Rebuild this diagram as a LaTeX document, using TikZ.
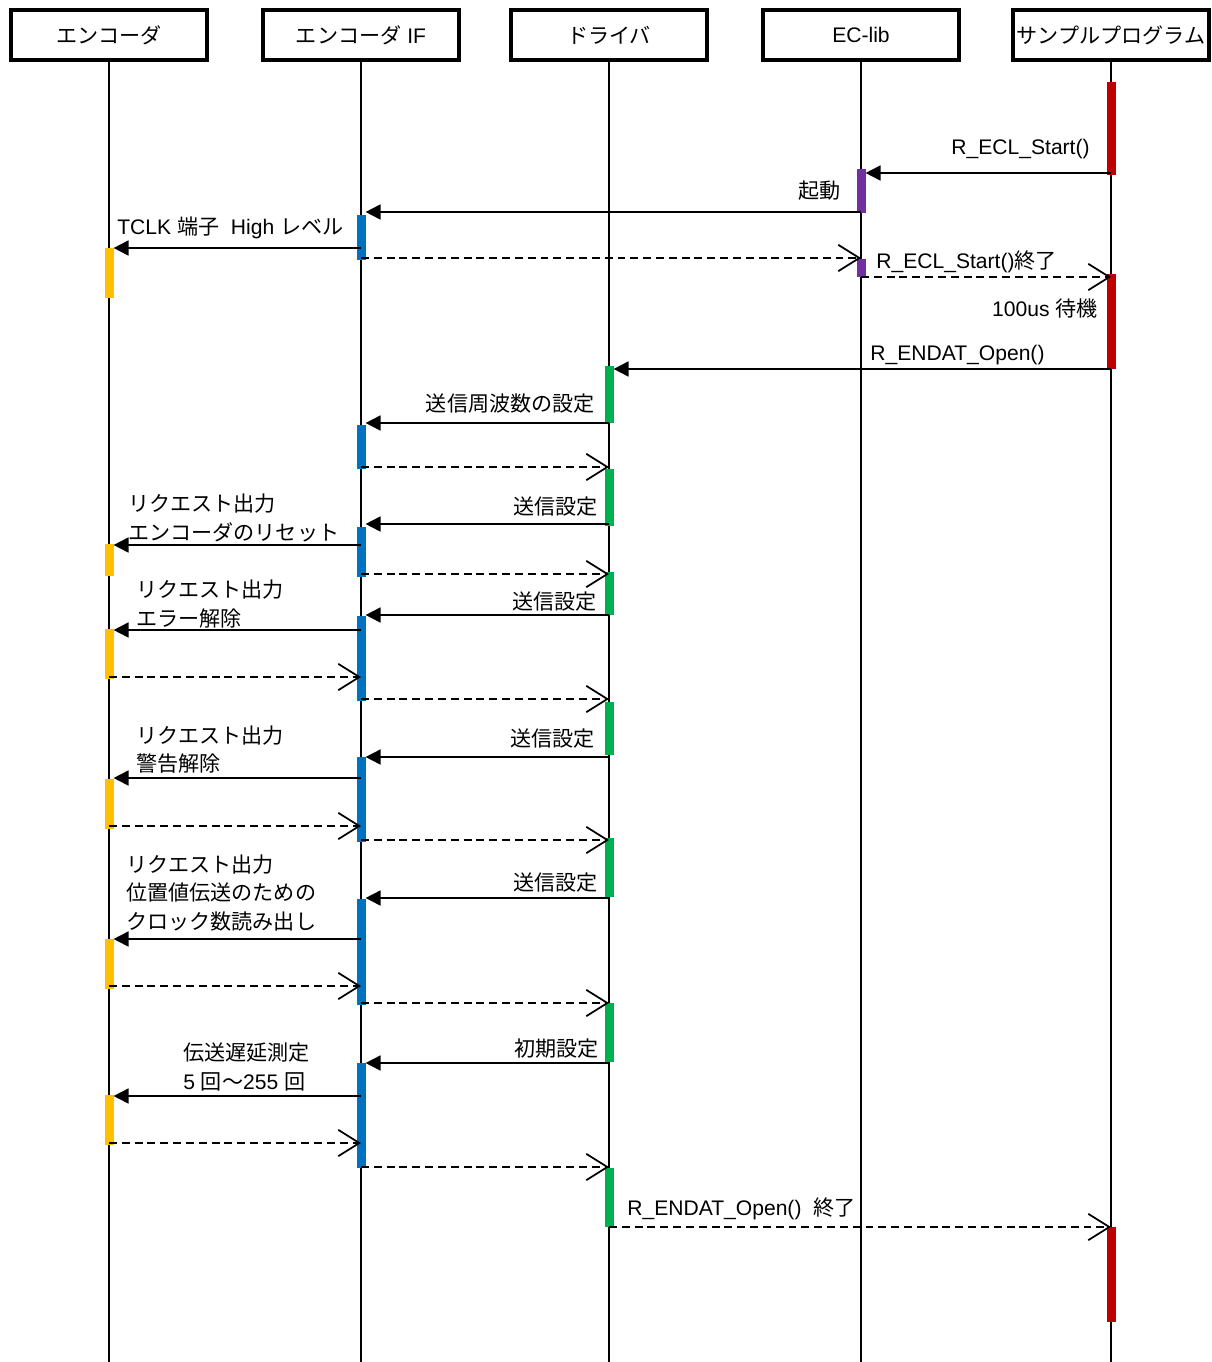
\documentclass[tikz,border=0pt]{standalone}
\usepackage{fontspec}
\setmainfont{Liberation Sans}
\newfontfamily\jp{Noto Sans CJK JP}
\usetikzlibrary{arrows.meta,calc}

\definecolor{appred}{HTML}{C00000}
\definecolor{libpurple}{HTML}{7030A0}
\definecolor{ifblue}{HTML}{0070C0}
\definecolor{encyellow}{HTML}{FFC000}
\definecolor{drvgreen}{HTML}{00B050}

\begin{document}
\begin{tikzpicture}[x=0.02cm,y=-0.02cm,
	every node/.style={font=\fontsize{12}{16}\selectfont,inner sep=0pt},
	jpnode/.style={font=\fontsize{12}{16}\selectfont\jp},
	head/.style={draw,line width=2.3pt,minimum width=3.92cm,minimum height=1cm},
	lifeline/.style={line width=1pt},
	call/.style={line width=1pt,-{Triangle[length=8.5pt,width=8.5pt]},shorten >=2.6pt},
	ret/.style={line width=1pt,dash pattern=on 4.5pt off 2.8pt,-{Straight Barb[length=12pt,width=15pt]}}]
	
	\useasboundingbox (0,0) rectangle (1212,1362);
	
	% objects
	\node[head] (enc)   at (109,35)  {\jp エンコーダ};
	\node[head] (encif) at (361,35)  {{\jp エンコーダ} IF};
	\node[head] (drv)   at (609,35)  {\jp ドライバ};
	\node[head] (eclib) at (861,35)  {EC-lib};
	\node[head] (app)   at (1111,35) {\jp サンプルプログラム};
	
	\foreach \l in {enc,encif,drv,eclib,app}
		\draw[lifeline] (\l.south) -- (\l.south |- 0,1362);
	
	% activations
	\foreach \l/\a/\b/\c in {app/82/175/appred, app/274/369/appred, app/1227/1322/appred,
		eclib/169/213/libpurple, eclib/259/277/libpurple,
		encif/215/260/ifblue, encif/425/469/ifblue, encif/527/577/ifblue, encif/616/701/ifblue,
		encif/757/842/ifblue, encif/899/1005/ifblue, encif/1063/1168/ifblue,
		enc/248/298/encyellow, enc/544/576/encyellow, enc/629/679/encyellow,
		enc/779/829/encyellow, enc/939/989/encyellow, enc/1095/1145/encyellow,
		drv/366/423/drvgreen, drv/469/526/drvgreen, drv/572/615/drvgreen, drv/702/755/drvgreen,
		drv/838/897/drvgreen, drv/1003/1062/drvgreen, drv/1168/1227/drvgreen}
		\fill[\c] ($(\l.south |- 0,\a)+(-4.5,0)$) rectangle ($(\l.south |- 0,\b)+(4.5,0)$);
	
	% messages
	\foreach \i/\f/\t/\y/\s in {1/app/eclib/173/call, 2/eclib/encif/212/call, 3/encif/enc/248/call,
		4/encif/eclib/258/ret, 5/eclib/app/277/ret, 6/app/drv/369/call, 7/drv/encif/423/call,
		8/encif/drv/467/ret, 9/drv/encif/524/call, 10/encif/enc/545/call, 11/encif/drv/574/ret,
		12/drv/encif/615/call, 13/encif/enc/630/call, 14/enc/encif/677/ret, 15/encif/drv/699/ret,
		16/drv/encif/757/call, 17/encif/enc/778/call, 18/enc/encif/826/ret, 19/encif/drv/840/ret,
		20/drv/encif/898/call, 21/encif/enc/939/call, 22/enc/encif/986/ret, 23/encif/drv/1003/ret,
		24/drv/encif/1063/call, 25/encif/enc/1096/call, 26/enc/encif/1143/ret, 27/encif/drv/1167/ret,
		28/drv/app/1227/ret}
	{
		\coordinate (s\i) at (\f.south |- 0,\y);
		\coordinate (e\i) at (\t.south |- 0,\y);
		\draw[\s] (s\i) -- (e\i);
	}
	
	% labels
	\node[anchor=base east] (l1) at (1090,154) {R\_ECL\_Start()};
	\node[anchor=base east] (l2) at (841,198) {\jp 起動};
	\node[anchor=base west] (l3) at (117,234) {TCLK {\jp 端子}\ \ High {\jp レベル}};
	\node[anchor=base west] (l4) at (876,268) {R\_ECL\_Start(){\jp 終了}};
	\node[anchor=base east] (l5) at (1098,316) {100us {\jp 待機}};
	\node[anchor=base west] (l6) at (870,360) {R\_ENDAT\_Open()};
	\node[anchor=base east] (l7) at (595,411) {\jp 送信周波数の設定};
	\node[anchor=base east] (l8) at (598,514) {\jp 送信設定};
	\node[jpnode,anchor=west,align=left] (l9) at (128,518) {リクエスト出力\\エンコーダのリセット};
	\node[anchor=base east] (l10) at (597,609) {\jp 送信設定};
	\node[jpnode,anchor=west,align=left] (l11) at (136,604) {リクエスト出力\\エラー解除};
	\node[anchor=base east] (l12) at (595,746) {\jp 送信設定};
	\node[jpnode,anchor=west,align=left] (l13) at (136,750) {リクエスト出力\\警告解除};
	\node[anchor=base east] (l14) at (598,890) {\jp 送信設定};
	\node[jpnode,anchor=west,align=left] (l15) at (126,893) {リクエスト出力\\位置値伝送のための\\クロック数読み出し};
	\node[anchor=base east] (l16) at (599,1056) {\jp 初期設定};
	\node[anchor=west,align=left] (l17) at (183,1067) {{\jp 伝送遅延測定}\\5 {\jp 回～}255 {\jp 回}};
	\node[anchor=base west] (l18) at (627,1215) {R\_ENDAT\_Open()\ \ {\jp 終了}};
\end{tikzpicture}
\end{document}
